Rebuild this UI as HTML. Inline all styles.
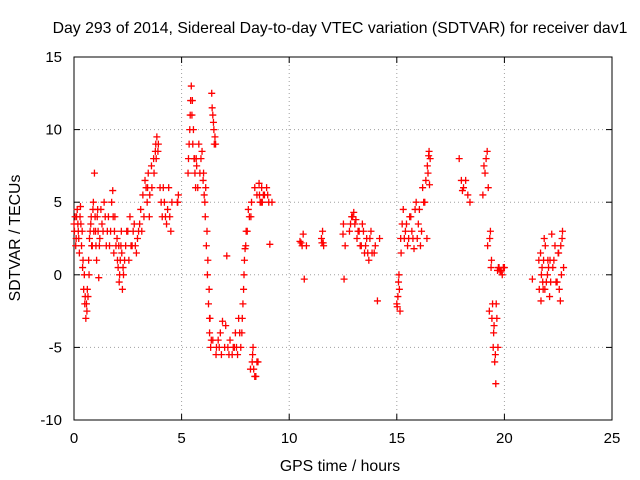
<!DOCTYPE html>
<html><head><meta charset="utf-8"><style>
body{margin:0;background:#fff;}
svg{display:block;font-family:"Liberation Sans",sans-serif;}
</style></head><body>
<svg id="chart" width="640" height="480" viewBox="0 0 640 480">
<rect width="640" height="480" fill="#fff"/>
<text x="340" y="33" font-size="15.8" text-anchor="middle">Day 293 of 2014, Sidereal Day-to-day VTEC variation (SDTVAR) for receiver dav1</text>
<text x="340" y="471" font-size="15.8" text-anchor="middle">GPS time / hours</text>
<text x="20" y="238" font-size="15.8" text-anchor="middle" transform="rotate(-90 20 238)">SDTVAR / TECUs</text>
<g id="grid"></g><g id="axes"></g><g id="marks"></g>
</svg>
<script>
const xTicks=[0,5,10,15,20,25];
const yTicks=[-10,-5,0,5,10,15];
const times=[0.0,0.05,0.1,0.15,0.2,0.25,0.3,0.35,0.4,0.45,0.5,0.55,0.6,0.65,0.7,0.75,0.8,0.85,0.9,0.95,1.0,1.05,1.1,1.15,1.2,1.3,1.4,1.5,1.6,1.7,1.8,1.85,1.9,2.0,2.05,2.1,2.15,2.2,2.25,2.3,2.4,2.5,2.6,2.7,2.8,2.9,3.0,3.1,3.2,3.3,3.4,3.45,3.5,3.6,3.7,3.8,3.85,3.9,4.0,4.1,4.2,4.3,4.4,4.5,4.8,4.85,
5.3,5.35,5.4,5.45,5.5,5.55,5.6,5.65,5.7,5.8,5.9,6.0,6.05,6.1,6.15,6.2,6.25,6.3,6.35,6.4,6.45,6.5,6.55,6.3,6.45,6.6,6.8,6.9,7.0,7.1,7.2,7.4,7.5,7.6,7.8,7.85,7.9,7.95,8.0,8.1,8.2,8.3,8.4,8.5,8.25,8.4,8.5,8.6,8.7,8.8,9.0,9.2,
10.5,10.6,10.7,10.8,11.5,11.55,11.6,12.5,12.55,12.6,12.8,12.9,13.0,13.1,13.2,13.3,13.4,13.5,13.6,13.7,13.8,14.0,14.2,15.0,15.05,15.1,15.15,15.2,15.3,15.4,15.5,15.6,15.7,15.8,15.9,16.0,16.1,16.2,16.3,16.4,16.45,16.5,16.55,
17.9,18.0,18.1,18.3,18.4,19.0,19.1,19.2,19.25,19.35,19.4,19.45,19.5,19.55,19.6,19.65,19.7,19.75,19.8,19.9,20.0,21.3,21.6,21.7,21.75,21.8,21.9,22.0,22.1,22.2,22.3,22.4,22.5,22.6,22.7,22.75,
0.02,0.08,0.12,0.18,0.22,0.28,0.32,0.38,0.42,0.48,0.52,0.58,0.62,0.68,0.72,0.78,0.82,0.88,0.92,0.98,1.02,1.08,1.12,1.18,1.25,1.35,1.45,1.55,1.65,1.75,1.82,1.88,1.95,2.02,2.08,2.12,2.18,2.22,2.28,2.35,2.45,2.55,2.65,2.75,2.85,2.95,3.05,3.15,3.25,3.35,3.42,3.52,3.62,3.72,3.78,3.82,3.92,4.05,4.15,4.25,4.35,4.45,4.55,4.82,
5.32,5.38,5.42,5.48,5.52,5.58,5.62,5.68,5.75,5.85,5.95,6.02,6.08,6.12,6.18,6.22,6.28,6.32,6.38,6.42,6.48,6.52,6.58,6.62,6.7,6.75,6.85,7.05,7.15,7.25,7.35,7.45,7.55,7.65,7.7,7.75,7.82,7.88,7.92,7.98,8.05,8.15,8.22,8.28,8.32,8.35,8.45,8.55,8.62,8.65,8.72,8.75,8.85,8.95,9.05,9.1,
10.55,10.65,11.52,11.58,12.52,12.85,12.95,13.05,13.15,13.25,13.35,13.45,13.55,13.65,13.75,13.85,13.95,14.1,15.02,15.08,15.12,15.18,15.25,15.35,15.45,15.55,15.65,15.75,15.85,15.95,16.05,16.15,16.25,16.35,16.42,16.48,16.52,
18.05,18.2,19.05,19.15,19.22,19.3,19.32,19.38,19.42,19.48,19.52,19.58,19.62,19.68,19.72,19.85,19.95,21.62,21.68,21.72,21.78,21.82,21.85,21.88,21.95,22.02,22.05,22.12,22.15,22.25,22.35,22.45,22.52,22.55,22.62,22.65,22.68,22.72];
const values=[3.5,4,2.5,4.5,3,1.5,4.7,2,0.5,-1,-2,-3,-2.5,-1.5,0,3,4,2,5,7,3,1,4.5,-0.2,2.5,3.5,5,2,4,3,5.8,1.5,4,2.5,0.5,-0.5,1,3,-1,0,2,3,4,2,3.5,1.5,3,4.5,5.5,6.5,5,7,4,7.5,8,9,9.5,8.5,6,4,5,3.5,6,3,5,5.5,
7,9,11,13,12,10,8,6,7.5,9,8,6.5,5.5,4,2,0,-2,-4,-5,12.5,11,10,9.5,-3,-4.5,-5.5,-4,-3.2,-5,1.3,-5.5,-5,-4,-5.5,-4,-2,0,1.8,3,4.5,-6.5,-5.5,-7,-6,5,6,5.5,6.3,5,5.5,5.5,5,
2.3,2,-0.3,2,2.5,3,2,2.8,-0.3,2,3,4,4.3,3.8,3,2,3.5,1.5,2.5,1,3,2,2.5,-2,-1.5,0,-2.5,1.5,4.5,3,2,4,3,1.8,5,3.5,2,6,5,2.5,7,8.5,8,
8,6.5,6,5.5,5,5.5,7,8.5,6,3,1,-2,-4,-6,-7.5,-3,-5,0.5,0.3,0,0.5,-0.3,1,-1.8,0.5,-1,2,0,-1.5,2.8,1,-0.5,1.5,-1.8,3,0.5,
3,2,4,3.5,2.5,4,3.5,3,1,0,-1.5,-2,-1,1,2.5,3.5,2,4.5,3,4,2,4,3,2,4.5,3,4,3,2,5,4,3,2,1,2,0,2,1.5,0.5,1,3,1,2,3,2,2.5,3.5,3,4,6,6,5.5,6,7,8.5,8,9,5,6,4,4.5,4,5,5,
8,10,12,11,9,8,7,8,6,7,8.5,7,5,6,3,1,-1,-3,-4.5,11.5,10.5,9,9,-5,-4.5,-5,-5.5,-3.5,-5,-4.5,-5.5,-5,-5,-3,-4,-5,-3,-1,1,2,3,4,4,-6,-5,-6.5,-7,-6,5.5,5,6,5,5.5,6,5,
2.1,2.2,2.8,2.2,2.2,3.5,3.5,4,3.5,2.5,3,2,3,2,1.5,2.5,1.5,1.5,-1.8,-2.2,-0.5,-1,2.5,3.5,2.5,3.5,2.5,4,2.5,4.5,2.5,4.5,3,5,6.5,7.5,8.2,
6.2,5.8,6.5,7.5,8,2,-2.5,2.5,0.5,-3,-5,-3.5,-5.5,-2,0.3,0.5,0.2,0.5,-1,1.5,0,-0.5,1,2.5,-1,-0.5,1,0.5,1,-0.5,0.5,2,-0.5,1.5,-1,2,0,2.5];
const X0=74,X1=612,Y0=420,Y1=57;
function xs(t){return X0+(t-0)/(25-0)*(X1-X0);}
function ys(v){return Y0-(v+10)/(25)*(Y0-Y1);}
const NS="http://www.w3.org/2000/svg";
function mk(tag,attrs,parent){const e=document.createElementNS(NS,tag);for(const k in attrs)e.setAttribute(k,attrs[k]);parent.appendChild(e);return e;}
const grid=document.getElementById('grid'),axes=document.getElementById('axes'),marks=document.getElementById('marks');
xTicks.forEach(t=>{const x=xs(t);
 if(t>0&&t<25){const g=mk('line',{x1:x,x2:x,y1:Y1,y2:Y0,stroke:'#a0a0a0','stroke-dasharray':'1,3'},grid);
 
 }
 mk('line',{x1:x,x2:x,y1:Y0,y2:Y0-6,stroke:'#000'},axes);
 mk('line',{x1:x,x2:x,y1:Y1,y2:Y1+6,stroke:'#000'},axes);
 const l=mk('text',{x:x,y:Y0+23,'font-size':15,'text-anchor':'middle'},axes);l.textContent=t;
 
 
});
yTicks.forEach(v=>{const y=ys(v);
 if(v>-10&&v<15){const g=mk('line',{x1:X0,x2:X1,y1:y,y2:y,stroke:'#a0a0a0','stroke-dasharray':'1,3'},grid);
 
 }
 mk('line',{x1:X0,x2:X0+6,y1:y,y2:y,stroke:'#000'},axes);
 mk('line',{x1:X1,x2:X1-6,y1:y,y2:y,stroke:'#000'},axes);
 const l=mk('text',{x:X0-12,y:y+5,'font-size':15,'text-anchor':'end'},axes);l.textContent=v;
 
 
});
const fr=mk('rect',{x:X0,y:Y1,width:X1-X0,height:Y0-Y1,fill:'none',stroke:'#000'},axes);


times.forEach((t,i)=>{const x=xs(t),y=ys(values[i]);
 const p=mk('path',{d:`M${x-3.5},${y}h7M${x},${y-3.5}v7`,stroke:'#ff0000','stroke-width':1.3},marks);
 
 
});
</script>
</body></html>
